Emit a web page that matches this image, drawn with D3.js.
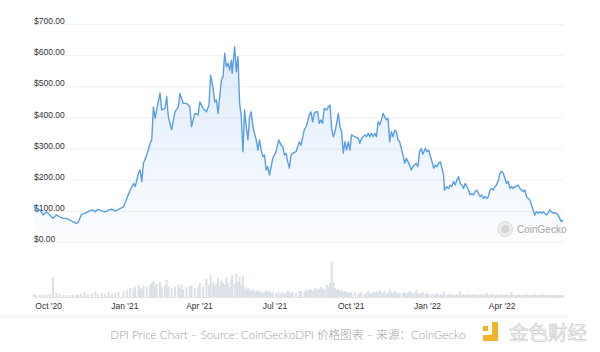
<!DOCTYPE html>
<html><head><meta charset="utf-8">
<script src="https://cdn.jsdelivr.net/npm/d3@7"></script>
<style>html,body{margin:0;padding:0;background:#fff;}svg{display:block;}</style>
</head><body><svg id="c" width="600" height="352"></svg>
<script>
const dates = [
"2020-09-14","2020-09-17","2020-09-21","2020-09-25","2020-09-29","2020-10-03","2020-10-07","2020-10-11","2020-10-15","2020-10-19",
"2020-10-23","2020-10-27","2020-10-31","2020-11-04","2020-11-06","2020-11-10","2020-11-14","2020-11-18","2020-11-23","2020-11-27",
"2020-11-30","2020-12-05","2020-12-09","2020-12-13","2020-12-17","2020-12-21","2020-12-25","2020-12-31","2021-01-04","2021-01-08",
"2021-01-12","2021-01-14","2021-01-18","2021-01-20","2021-01-22","2021-01-24","2021-01-28","2021-02-01","2021-02-03","2021-02-05",
"2021-02-07","2021-02-09","2021-02-13","2021-02-15","2021-02-19","2021-02-21","2021-02-23","2021-02-27","2021-03-03","2021-03-07",
"2021-03-09","2021-03-11","2021-03-13","2021-03-17","2021-03-21","2021-03-23","2021-03-27","2021-03-31","2021-04-02","2021-04-06",
"2021-04-10","2021-04-13","2021-04-15","2021-04-18","2021-04-20","2021-04-22","2021-04-24","2021-04-26","2021-04-28","2021-04-30",
"2021-05-02","2021-05-04","2021-05-06","2021-05-08","2021-05-10","2021-05-11","2021-05-14","2021-05-16","2021-05-18","2021-05-20",
"2021-05-22","2021-05-24","2021-05-26","2021-05-28","2021-05-30","2021-06-01","2021-06-03","2021-06-05","2021-06-07","2021-06-09",
"2021-06-11","2021-06-13","2021-06-15","2021-06-17","2021-06-19","2021-06-21","2021-06-23","2021-06-25","2021-06-27","2021-06-29",
"2021-07-03","2021-07-06","2021-07-09","2021-07-11","2021-07-13","2021-07-15","2021-07-17","2021-07-19","2021-07-21","2021-07-23",
"2021-07-27","2021-07-31","2021-08-02","2021-08-06","2021-08-08","2021-08-10","2021-08-12","2021-08-14","2021-08-16","2021-08-18",
"2021-08-20","2021-08-22","2021-08-24","2021-08-26","2021-08-28","2021-08-30","2021-09-02","2021-09-04","2021-09-06","2021-09-08",
"2021-09-10","2021-09-12","2021-09-14","2021-09-16","2021-09-18","2021-09-20","2021-09-22","2021-09-24","2021-09-26","2021-09-28",
"2021-09-30","2021-10-02","2021-10-06","2021-10-10","2021-10-12","2021-10-14","2021-10-18","2021-10-20","2021-10-22","2021-10-24",
"2021-10-26","2021-10-28","2021-10-30","2021-11-01","2021-11-03","2021-11-05","2021-11-07","2021-11-09","2021-11-11","2021-11-13",
"2021-11-15","2021-11-17","2021-11-19","2021-11-21","2021-11-23","2021-11-25","2021-11-27","2021-11-29","2021-12-03","2021-12-05",
"2021-12-07","2021-12-09","2021-12-11","2021-12-13","2021-12-15","2021-12-17","2021-12-19","2021-12-21","2021-12-23","2021-12-25",
"2021-12-27","2021-12-30","2022-01-01","2022-01-03","2022-01-07","2022-01-09","2022-01-11","2022-01-13","2022-01-15","2022-01-17",
"2022-01-19","2022-01-21","2022-01-22","2022-01-25","2022-01-27","2022-01-29","2022-01-31","2022-02-02","2022-02-04","2022-02-06",
"2022-02-08","2022-02-10","2022-02-12","2022-02-14","2022-02-16","2022-02-18","2022-02-20","2022-02-22","2022-02-24","2022-02-26",
"2022-02-28","2022-03-02","2022-03-04","2022-03-06","2022-03-08","2022-03-10","2022-03-12","2022-03-14","2022-03-16","2022-03-18",
"2022-03-20","2022-03-22","2022-03-24","2022-03-26","2022-03-28","2022-03-30","2022-04-01","2022-04-03","2022-04-05","2022-04-07",
"2022-04-09","2022-04-11","2022-04-13","2022-04-15","2022-04-17","2022-04-19","2022-04-21","2022-04-23","2022-04-25","2022-04-27",
"2022-04-29","2022-05-01","2022-05-03","2022-05-05","2022-05-07","2022-05-09","2022-05-11","2022-05-13","2022-05-15","2022-05-17",
"2022-05-19","2022-05-21","2022-05-23","2022-05-25","2022-05-27","2022-05-29","2022-05-31","2022-06-02","2022-06-04","2022-06-06",
"2022-06-08","2022-06-10","2022-06-12","2022-06-14"
];
const prices = [
120,97,103,87,97,87,76,87,81,76,
76,71,65,60,62,87,92,97,103,97,
105,100,97,103,105,100,105,113,140,167,
188,178,221,231,194,253,279,317,328,434,
397,424,479,424,429,467,402,360,418,434,
477,461,445,445,434,370,413,408,450,429,
418,440,536,494,450,456,413,467,520,531,
606,563,574,552,584,542,627,547,595,445,
402,290,424,370,328,402,418,370,349,328,
295,328,295,274,279,231,242,215,242,269,
290,328,311,306,279,285,258,237,279,285,
290,322,311,360,370,386,408,418,386,413,
418,418,381,392,381,429,424,434,440,365,
338,354,381,413,370,354,285,322,295,322,
295,344,338,333,317,333,344,338,349,338,
349,338,349,338,386,376,392,413,402,392,
397,322,354,338,360,354,328,322,279,253,
269,258,247,231,242,247,253,242,290,300,
282,301,290,295,258,237,247,242,253,258,
237,215,167,178,172,183,178,194,183,199,
210,188,183,172,188,178,167,151,156,151,
162,167,156,146,151,140,146,140,146,167,
172,167,178,183,199,221,226,221,204,188,
194,172,178,172,178,178,183,172,167,162,
167,146,140,135,119,103,87,97,92,97,
92,97,92,87,92,103,97,92,94,92,
87,76,65,71
];
const volumes = [
3,2,2,2,2,3,20,4,3,2,
2,2,2,2,3,4,5,3,4,6,
3,4,3,5,3,4,5,6,7,9,
8,10,12,9,8,11,10,12,14,16,
11,13,15,10,12,17,11,9,10,12,
9,13,8,10,11,12,9,10,14,10,
18,12,22,15,11,13,19,12,16,14,
12,20,14,10,18,22,13,24,15,20,
12,21,10,8,9,7,6,8,5,6,
7,5,6,4,5,7,5,6,4,5,
4,5,4,5,3,4,6,5,4,5,
4,6,6,5,7,6,8,7,6,8,
9,7,8,10,9,8,12,10,14,35,
15,9,7,8,6,7,5,6,5,4,
5,4,5,3,4,5,3,4,6,3,
4,5,4,6,4,7,5,4,6,3,
4,8,5,4,6,4,3,4,4,5,
3,4,6,5,3,4,7,4,3,4,
5,3,4,3,3,2,3,4,2,3,
2,5,3,2,3,2,3,2,2,3,
2,6,2,3,2,2,3,2,2,3,
2,3,2,2,3,2,2,4,2,2,
3,2,2,3,2,2,3,2,2,3,
2,2,5,2,2,2,3,2,2,2,
2,3,2,2,2,2,3,2,2,2,
2,3,2,2,2,2,2,2,2,2,
2,2,2,2
];
const yTicks = [0,100,200,300,400,500,600,700];
const xTickDates = ["2020-10-01","2021-01-01","2021-04-01","2021-07-01","2021-10-01","2022-01-01","2022-04-01"];
const xTickLabels = ["Oct '20","Jan '21","Apr '21","Jul '21","Oct '21","Jan '22","Apr '22"];
const captionText = "DPI Price Chart – Source: CoinGeckoDPI 价格图表 – 来源：CoinGecko";
const watermarkText = "CoinGecko";
const logoText = "金色财经";

const parse = d3.utcParse("%Y-%m-%d");
const n = Math.min(dates.length, prices.length, volumes.length);
const data = d3.range(n).map(i => ({date: parse(dates[i]), price: prices[i], vol: volumes[i]}));

const svg = d3.select("#c");
const font = "'Liberation Sans', Arial, sans-serif";
const x = d3.scaleUtc().domain([parse("2020-09-14"), parse("2022-06-14")]).range([34, 563]);
const y = d3.scaleLinear().domain([0, 700]).range([242, 24]);
const yv = d3.scaleLinear().domain([0, 40]).range([297, 257]);

const defs = svg.append("defs");
const g1 = defs.append("linearGradient").attr("id","fillGrad").attr("x1",0).attr("y1",0).attr("x2",0).attr("y2",1);
g1.append("stop").attr("offset","0%").attr("stop-color","#5b9ee8").attr("stop-opacity",0.2);
g1.append("stop").attr("offset","100%").attr("stop-color","#5b9ee8").attr("stop-opacity",0.02);
const g2 = defs.append("linearGradient").attr("id","shadowGrad").attr("x1",0).attr("y1",0).attr("x2",0).attr("y2",1);
g2.append("stop").attr("offset","0%").attr("stop-color","#000").attr("stop-opacity",0);
g2.append("stop").attr("offset","100%").attr("stop-color","#000").attr("stop-opacity",0.05);

// y axis with gridlines
const yAxis = svg.append("g").attr("transform","translate(34,0)")
  .call(d3.axisRight(y).tickValues(yTicks).tickSize(529).tickFormat(d => "$" + d3.format(",.2f")(d)));
yAxis.select(".domain").remove();
yAxis.selectAll(".tick line").attr("stroke","#f0f0f0").attr("stroke-width",1);
yAxis.selectAll(".tick text").attr("x",0).attr("dy","-0.05em").attr("text-anchor","start")
  .attr("fill","#333").style("font-family",font).style("font-size","8.5px");

// price area + line
const area = d3.area().x(d => x(d.date)).y0(y(0)).y1(d => y(d.price));
svg.append("path").datum(data).attr("d", area).attr("fill","url(#fillGrad)");
const line = d3.line().x(d => x(d.date)).y(d => y(d.price));
svg.append("path").datum(data).attr("d", line).attr("fill","none")
  .attr("stroke","#5b9ee8").attr("stroke-width",1.4).attr("stroke-linejoin","round");

// volume bars
svg.append("g").selectAll("rect").data(data).join("rect")
  .attr("x", d => x(d.date) - 1).attr("width", 2)
  .attr("y", d => yv(d.vol)).attr("height", d => yv(0) - yv(d.vol))
  .attr("fill","#dce1e8");

// x axis
const xAxis = svg.append("g").attr("transform","translate(0,297)")
  .call(d3.axisBottom(x).tickValues(xTickDates.map(parse)).tickFormat((d,i) => xTickLabels[i]).tickSize(0).tickPadding(6));
xAxis.select(".domain").attr("stroke","#e4e4e4");
xAxis.selectAll(".tick text").attr("fill","#333").style("font-family",font).style("font-size","8.5px");

// watermark
svg.append("circle").attr("cx",505).attr("cy",229).attr("r",7.5).attr("fill","#ececec").attr("stroke","#dcdcdc");
svg.append("circle").attr("cx",505).attr("cy",229).attr("r",4).attr("fill","#d6d6d6");
svg.append("text").attr("x",517).attr("y",232.5).text(watermarkText)
  .attr("fill","#a5a5a5").style("font-family",font).style("font-size","10px");

// separator shadow
svg.append("rect").attr("x",0).attr("y",312).attr("width",568).attr("height",6).attr("fill","url(#shadowGrad)");

// caption
svg.append("text").attr("x",288).attr("y",339).attr("text-anchor","middle").text(captionText)
  .attr("fill","#a0a0a0").style("font-family","Lato, 'Noto Sans CJK SC', sans-serif").style("font-weight","300").style("font-size","11.6px");

// logo
const logo = svg.append("g");
logo.append("rect").attr("x",483).attr("y",326).attr("width",5).attr("height",5).attr("fill","#f0b429");
logo.append("path").attr("d","M492,322 H498 V341 H483 V335 H492 Z").attr("fill","#f0b429");
logo.append("text").attr("x",509).attr("y",340).text(logoText)
  .attr("fill","#f7f7f7").attr("stroke","#cfcfcf").attr("stroke-width",0.7)
  .style("font-family","'Noto Sans CJK SC', sans-serif").style("font-size","19.5px");
</script>
</body></html>
